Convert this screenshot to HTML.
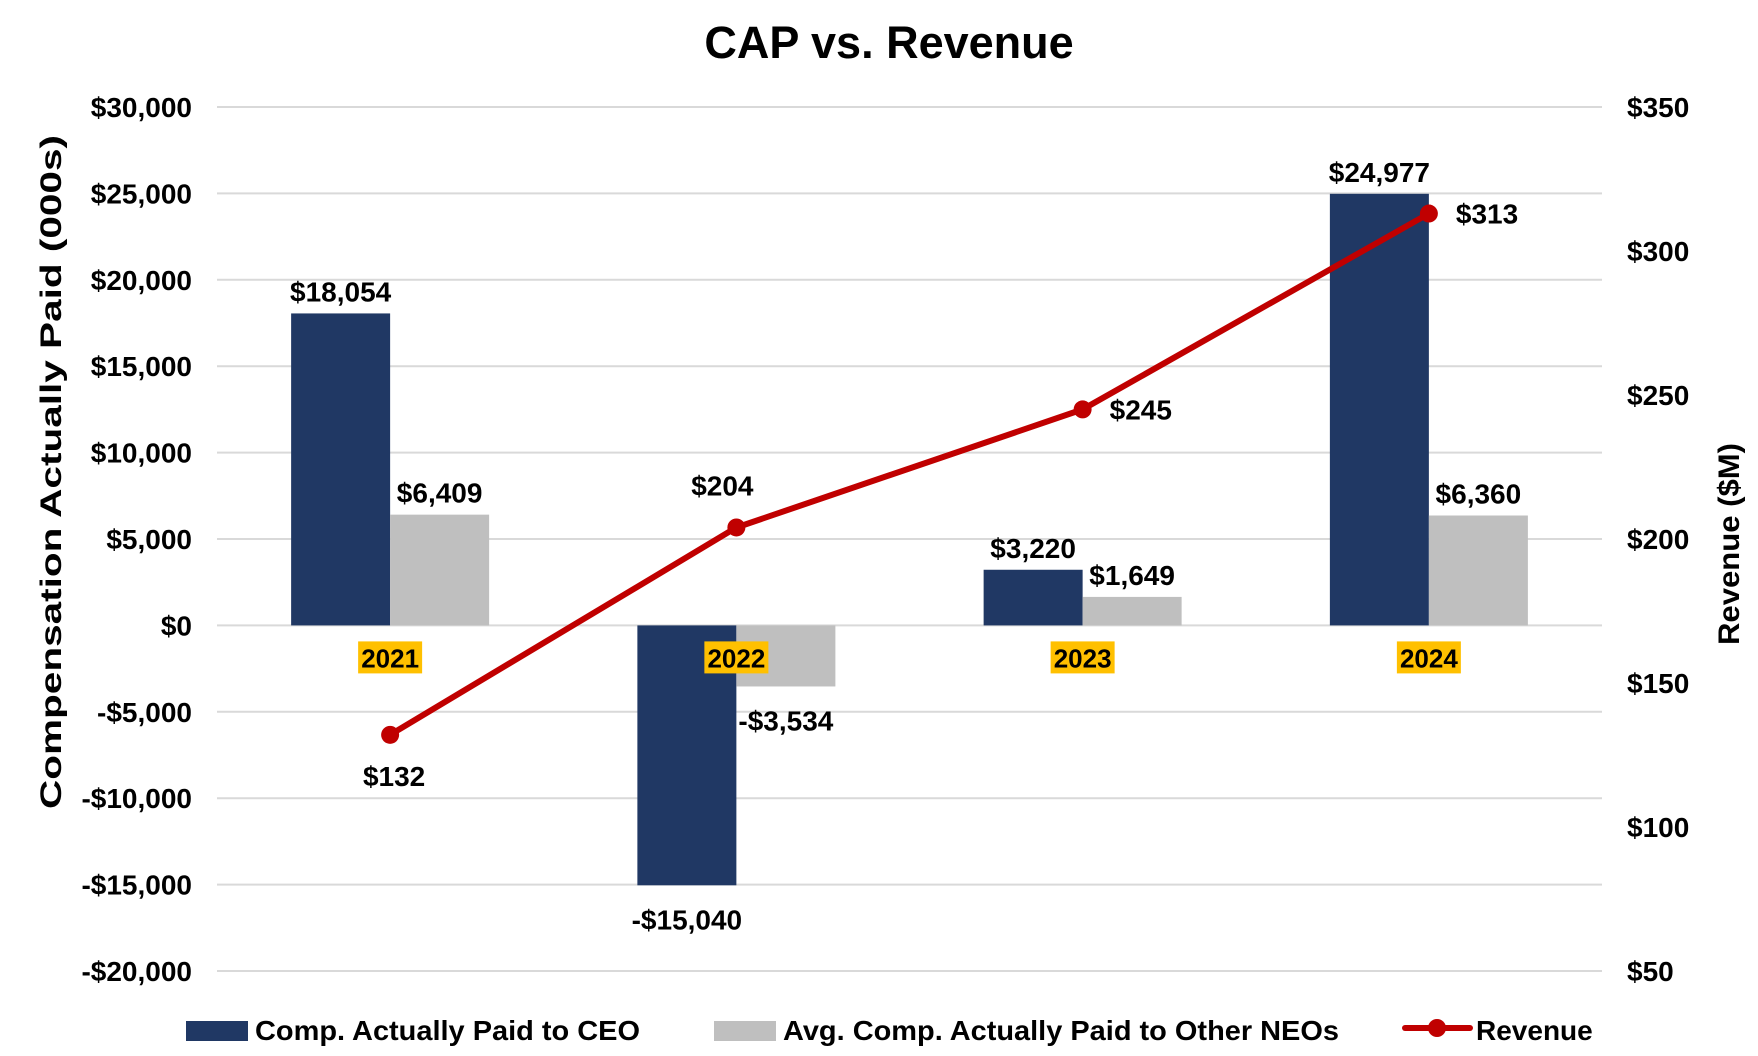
<!DOCTYPE html>
<html><head><meta charset="utf-8"><style>
html,body{margin:0;padding:0;background:#fff;}
svg{display:block;font-family:"Liberation Sans",Arial,sans-serif;font-weight:bold;}
</style></head><body>
<svg id="chart" width="1758" height="1056" viewBox="0 0 1758 1056">
<text x="889" y="58" font-size="45" text-anchor="middle">CAP vs. Revenue</text>
<text transform="translate(61,472) rotate(-90)" font-size="30" text-anchor="middle" textLength="674" lengthAdjust="spacingAndGlyphs">Compensation Actually Paid (000s)</text>
<text transform="translate(1739,544) rotate(-90)" font-size="30" text-anchor="middle" textLength="202" lengthAdjust="spacingAndGlyphs">Revenue ($M)</text>
<g id="grid"></g><g id="bars"></g><g id="line"></g><g id="labels"></g>
<g>
<rect x="186" y="1021" width="62" height="20" fill="#203864"/>
<text x="255" y="1040" font-size="28" textLength="385" lengthAdjust="spacingAndGlyphs">Comp. Actually Paid to CEO</text>
<rect x="714" y="1021" width="62" height="20" fill="#bfbfbf"/>
<text x="783" y="1040" font-size="28" textLength="556" lengthAdjust="spacingAndGlyphs">Avg. Comp. Actually Paid to Other NEOs</text>
<line x1="1405" y1="1028" x2="1470" y2="1028" stroke="#c00000" stroke-width="6" stroke-linecap="round"/>
<circle cx="1437" cy="1028" r="9" fill="#c00000"/>
<text x="1476" y="1040" font-size="28">Revenue</text>
</g>
</svg>
<script>
const categories = ["2021","2022","2023","2024"];
const ceoValues = [18054, -15040, 3220, 24977];
const neoValues = [6409, -3534, 1649, 6360];
const revenueValues = [132, 204, 245, 313];
const leftTicks = [30000,25000,20000,15000,10000,5000,0,-5000,-10000,-15000,-20000];
const rightTicks = [350,300,250,200,150,100,50];

const NS="http://www.w3.org/2000/svg";
const X0=217, X1=1602, YTOP=107, YBOT=971;
const yL = v => YTOP + (30000 - v) * (YBOT-YTOP) / 50000;
const yR = v => YTOP + (350 - v) * (YBOT-YTOP) / 300;
const band = (X1-X0)/categories.length;
const xc = i => X0 + band*(i+0.5);
const BW = 99;
const fmt = v => (v<0?"-":"") + "$" + Math.abs(v).toLocaleString("en-US");
function mk(tag, attrs, parent, txt){
  const e=document.createElementNS(NS,tag);
  for(const k in attrs) e.setAttribute(k,attrs[k]);
  if(txt!==undefined) e.textContent=txt;
  document.getElementById(parent).appendChild(e);
  return e;
}
leftTicks.forEach(t=>{
  const g=mk("line",{x1:X0,x2:X1,y1:yL(t),y2:yL(t),stroke:"#d9d9d9","stroke-width":2},"grid");
  
  
  const l=mk("text",{x:192,y:yL(t)+10,"font-size":28,"text-anchor":"end"},"grid",fmt(t));
  
  
});
rightTicks.forEach(t=>{
  const l=mk("text",{x:1627,y:yR(t)+10,"font-size":28},"grid","$"+t);
  
  
});
categories.forEach((c,i)=>{
  const cx=xc(i);
  [[ceoValues[i],cx-BW,"#203864","ceo"],[neoValues[i],cx,"#bfbfbf","neo"]].forEach(([v,x,col,nm])=>{
    const top=Math.min(yL(v),yL(0)), h=Math.abs(yL(v)-yL(0));
    const r=mk("rect",{x:x,y:top,width:BW,height:h,fill:col},"bars");
    
    
    const ly = v>=0 ? yL(v)-12 : yL(v)+44;
    const t=mk("text",{x:x+BW/2,y:ly,"font-size":28,"text-anchor":"middle"},"labels",fmt(v));
    
    
  });
  const b=mk("rect",{x:cx-32,y:yL(0)+16,width:64,height:32,fill:"#ffc000"},"labels");
  
  
  const yt=mk("text",{x:cx,y:yL(0)+42,"font-size":26,"text-anchor":"middle"},"labels",c);
  
  
});
const pts=revenueValues.map((v,i)=>[xc(i),yR(v)]);
const pl=mk("polyline",{points:pts.map(p=>p.join(",")).join(" "),fill:"none",stroke:"#c00000","stroke-width":6,"stroke-linejoin":"round"},"line");


const pos=["below","above","right","right"];
pts.forEach((p,i)=>{
  const c=mk("circle",{cx:p[0],cy:p[1],r:9,fill:"#c00000"},"line");
  
  
  let a;
  if(pos[i]==="below") a={x:p[0]+4,y:p[1]+51,"text-anchor":"middle"};
  else if(pos[i]==="above") a={x:p[0]-14,y:p[1]-32,"text-anchor":"middle"};
  else a={x:p[0]+27,y:p[1]+10,"text-anchor":"start"};
  a["font-size"]=28;
  const t=mk("text",a,"labels","$"+revenueValues[i]);
  
  
});
</script>
</body></html>
